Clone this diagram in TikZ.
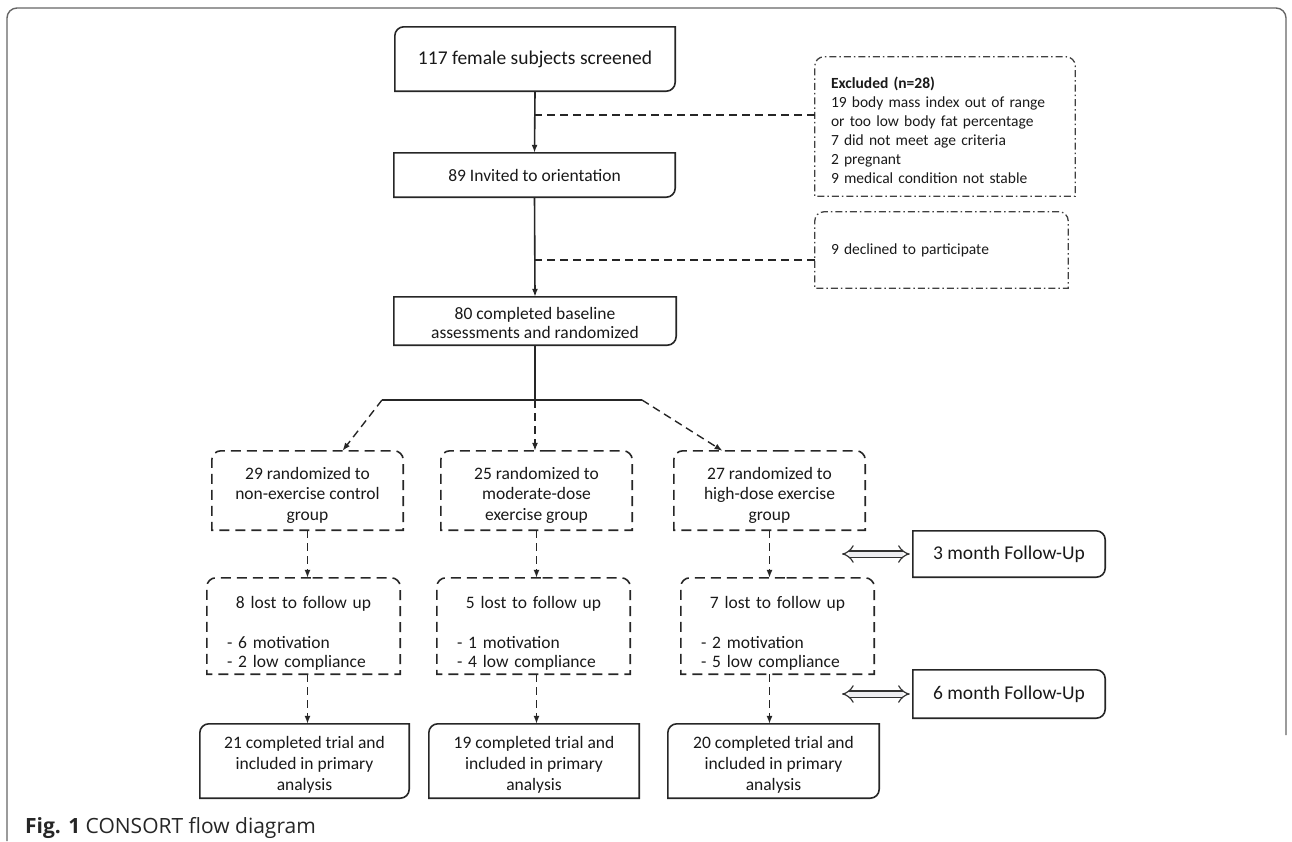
\documentclass[tikz,border=0pt]{standalone}
\usepackage{fontspec}
\setmainfont{Carlito}
\newfontfamily\capfont{Open Sans}
\usetikzlibrary{arrows.meta}

\tikzset{
  flowbox/.style n args={2}{minimum width=#1, minimum height=#2, inner sep=0pt, align=center,
    text=black!90, font=\fontsize{17.5}{20.5}\selectfont},
  rc/.style={rounded corners=9pt},
  sc/.style={sharp corners},
  frameline/.style={line width=1.6pt, draw=black!85},
  dashedge/.style={frameline, line width=1.4pt, dash pattern=on 8pt off 5pt},
  dashbox/.style={frameline, dash pattern=on 10pt off 6pt},
  dotbox/.style={line width=1.3pt, draw=black!75, dash pattern=on 7pt off 3pt on 1.5pt off 3pt},
  arr/.style={-{Latex[length=8pt,width=6pt]}},
  dbl/.style={{Implies}-{Implies}, draw=black!80, double=blue!10!gray!12, double distance=5pt, line width=1.2pt}
}

% outline of a node, corners: top left, top right, bottom right, bottom left
\newcommand{\boxline}[6]{%
  \draw[#2] (#1.north) [#4] -- (#1.north east) -- (#1.east) [#5] -- (#1.south east) -- (#1.south)
    [#6] -- (#1.south west) -- (#1.west) [#3] -- (#1.north west) -- cycle;}
\newcommand{\topgap}[1]{\rule{0pt}{#1}}

\begin{document}
\begin{tikzpicture}[x=1pt,y=-1pt]
\useasboundingbox (0,0) rectangle (1292,841);

\draw[gray!80!black, line width=1.4pt, rounded corners=10pt] (7,841) -- (7,8) -- (1286,8) -- (1286,735);

\node[flowbox={280pt}{64pt}, font=\fontsize{19.5}{23}\selectfont] (screen) at (535,59) {117 female subjects screened};
\node[flowbox={281pt}{44pt}] (invite) at (534.5,175) {89 Invited to orientation};
\node[flowbox={282pt}{48pt}, font=\fontsize{17.5}{19.5}\selectfont] (base) at (535,321) {\topgap{16pt}80 completed baseline\\assessments and randomized};

\node[flowbox={260pt}{139pt}, text width=228pt, align=left, font=\fontsize{15.5}{19}\selectfont] (excl) at (945,126.5)
  {\topgap{19pt}\textbf{Excluded (n=28)}\\19 body mass index out of range\\or too low body fat percentage\\7 did not meet age criteria\\2 pregnant\\9 medical condition not stable};
\node[flowbox={253pt}{76pt}, text width=221pt, align=left, font=\fontsize{15.5}{19.5}\selectfont] (decl) at (941.5,250) {9 declined to participate};

\node[flowbox={191pt}{79pt}] (g1) at (307.5,490.5) {\topgap{21pt}29 randomized to\\non-exercise control\\group};
\node[flowbox={191pt}{79pt}] (g2) at (536.5,490.5) {\topgap{21pt}25 randomized to\\moderate-dose\\exercise group};
\node[flowbox={191pt}{79pt}] (g3) at (769.5,490.5) {\topgap{21pt}27 randomized to\\high-dose exercise\\group};

\node[flowbox={193pt}{96pt}, text width=153pt, align=left, font=\fontsize{17.5}{19.5}\selectfont] (l1) at (303.5,626)
  {{\centering\topgap{27pt}8 lost to follow up\par}\vspace{20pt}- 6 motivation\\- 2 low compliance};
\node[flowbox={193pt}{96pt}, text width=153pt, align=left, font=\fontsize{17.5}{19.5}\selectfont] (l2) at (533.5,626)
  {{\centering\topgap{27pt}5 lost to follow up\par}\vspace{20pt}- 1 motivation\\- 4 low compliance};
\node[flowbox={193pt}{96pt}, text width=153pt, align=left, font=\fontsize{17.5}{19.5}\selectfont] (l3) at (777.5,626)
  {{\centering\topgap{27pt}7 lost to follow up\par}\vspace{20pt}- 2 motivation\\- 5 low compliance};

\node[flowbox={209pt}{74pt}, font=\fontsize{17.5}{21}\selectfont] (f1) at (304.5,761) {\topgap{19pt}21 completed trial and\\included in primary\\analysis};
\node[flowbox={210pt}{74pt}, font=\fontsize{17.5}{21}\selectfont] (f2) at (534,761) {\topgap{19pt}19 completed trial and\\included in primary\\analysis};
\node[flowbox={211pt}{74pt}, font=\fontsize{17.5}{21}\selectfont] (f3) at (773.5,761) {\topgap{19pt}20 completed trial and\\included in primary\\analysis};

\node[flowbox={192pt}{46pt}, font=\fontsize{19.5}{23}\selectfont] (m3) at (1009,554) {3 month Follow-Up};
\node[flowbox={192pt}{48pt}, font=\fontsize{19.5}{23}\selectfont] (m6) at (1009,694) {6 month Follow-Up};

\boxline{screen}{frameline}{rc}{sc}{rc}{sc}
\boxline{invite}{frameline}{sc}{sc}{rc}{sc}
\boxline{base}{frameline}{sc}{sc}{rc}{sc}
\boxline{excl}{dotbox}{rc}{rc}{sc}{sc}
\boxline{decl}{dotbox}{rc}{rc}{sc}{sc}
\foreach \c in {1,2,3}{
  \boxline{g\c}{dashbox}{rc}{rc}{sc}{sc}
  \boxline{l\c}{dashbox}{rc}{rc}{sc}{sc}
}
\boxline{f1}{frameline}{rc}{sc}{rc}{sc}
\boxline{f2}{frameline}{rc}{sc}{sc}{sc}
\boxline{f3}{frameline}{rc}{sc}{rc}{sc}
\boxline{m3}{frameline}{sc}{rc}{rc}{sc}
\boxline{m6}{frameline}{sc}{rc}{rc}{sc}

\draw[frameline, arr] (screen.south) -- (invite.north);
\coordinate (cut1) at (534,115);
\draw[dashedge] (cut1) -- (cut1 -| excl.west);
\draw[frameline, arr] (invite.south) -- (base.north);
\coordinate (cut2) at (534,260);
\draw[dashedge] (cut2) -- (cut2 -| decl.west);

\coordinate (split) at (535,400);
\coordinate (splitL) at (382,400);
\coordinate (splitR) at (642,400);
\draw[frameline] (base.south) -- (split);
\draw[frameline] (splitL) -- (splitR);
\draw[dashedge, arr] (splitL) -- ([xshift=35pt]g1.north);
\draw[dashedge, arr] (split) -- (split |- g2.north);
\draw[dashedge, arr] (splitR) -- ([xshift=-47pt]g3.north);
\foreach \c in {1,2,3}{
  \draw[dashedge, arr] (g\c.south) -- (g\c.south |- l\c.north);
  \draw[dashedge, arr] (g\c.south |- l\c.south) -- (g\c.south |- f\c.north);
}

\coordinate (fu3) at (842,554);
\draw[dbl] (fu3) -- ([xshift=-3pt]m3.west);
\coordinate (fu6) at (842,694);
\draw[dbl] (fu6) -- ([xshift=-3pt]m6.west);

\node[anchor=base west, inner sep=0pt, text=black!85, font=\capfont\fontsize{21}{25}\selectfont] (cap) at (25,833)
  {\textbf{Fig. 1} CONSORT flow diagram};
\end{tikzpicture}
\end{document}
